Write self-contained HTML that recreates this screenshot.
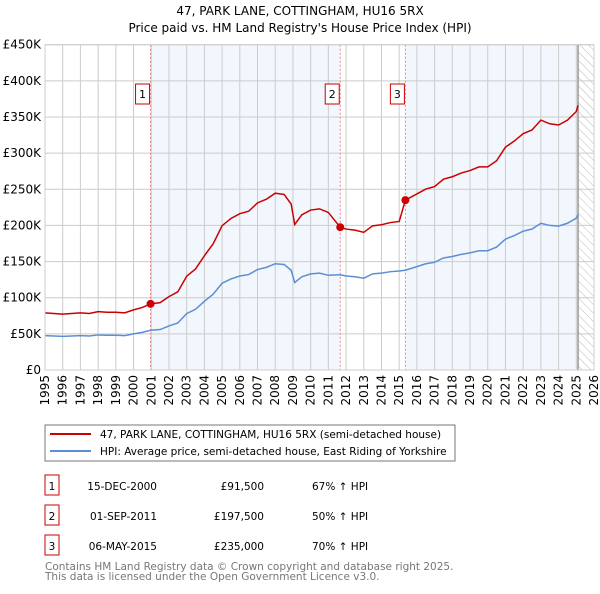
<!DOCTYPE html>
<html><head><meta charset="utf-8"><style>
body{margin:0;background:#fff;width:600px;height:590px;overflow:hidden;font-family:"DejaVu Sans","Liberation Sans",sans-serif}
svg text{font-family:"DejaVu Sans","Liberation Sans",sans-serif}
</style></head><body>
<svg id="c" width="600" height="590" viewBox="0 0 600 590">
<defs><pattern id="hatch" width="6" height="6" patternUnits="userSpaceOnUse" patternTransform="rotate(-45)"><rect width="6" height="6" fill="#fff"/><line x1="0" y1="0" x2="0" y2="6" stroke="#bbb" stroke-width="1"/></pattern></defs>
<text x="300" y="15" text-anchor="middle" font-size="12">47, PARK LANE, COTTINGHAM, HU16 5RX</text>
<text x="300" y="32" text-anchor="middle" font-size="12">Price paid vs. HM Land Registry's House Price Index (HPI)</text>
<g id="plot"></g>
<rect x="45" y="425" width="410" height="36" fill="#fff" stroke="#777"/>
<line x1="50" y1="434" x2="91" y2="434" stroke="#cc0000" stroke-width="2"/>
<text x="100" y="438" font-size="10.5">47, PARK LANE, COTTINGHAM, HU16 5RX (semi-detached house)</text>
<line x1="50" y1="451" x2="91" y2="451" stroke="#5b8fd4" stroke-width="2"/>
<text x="100" y="455" font-size="10.5">HPI: Average price, semi-detached house, East Riding of Yorkshire</text>
<g id="tbl"></g>
<text x="45" y="570" font-size="10.5" fill="#777">Contains HM Land Registry data © Crown copyright and database right 2025.</text>
<text x="45" y="580" font-size="10.5" fill="#777">This data is licensed under the Open Government Licence v3.0.</text>
</svg>
<script>
const hpiYears=[1995,1995.5,1996,1996.5,1997,1997.5,1998,1998.5,1999,1999.5,2000,2000.5,2000.96,2001.5,2002,2002.5,2003,2003.5,2004,2004.5,2005,2005.5,2006,2006.5,2007,2007.5,2008,2008.5,2008.9,2009.1,2009.5,2010,2010.5,2011,2011.67,2012,2012.5,2013,2013.5,2014,2014.5,2015,2015.35,2016,2016.5,2017,2017.5,2018,2018.5,2019,2019.5,2020,2020.5,2021,2021.5,2022,2022.5,2023,2023.5,2024,2024.5,2025,2025.1];
const hpiValues=[47.5,47,46.5,47,47.5,47,48.5,48,48,47.5,50,52,55,56,61,65,78,84,95,105,120,126,130,132,139,142,147,146,138,121,129,133,134,131,131.7,130,129,127,133,134,136,137,138,143,147,149,155,157,160,162,165,165,170,181,186,192,195,203,200,199,203,210,215];
const saleDates=[2000.96,2011.67,2015.35];
const salePrices=[91.5,197.5,235];
const saleLabels=["1","2","3"];
const saleDateText=["15-DEC-2000","01-SEP-2011","06-MAY-2015"];
const salePriceText=["£91,500","£197,500","£235,000"];
const saleHpiText=["67% ↑ HPI","50% ↑ HPI","70% ↑ HPI"];
const yTicks=[0,50,100,150,200,250,300,350,400,450];
const yTickLabels=["£0","£50K","£100K","£150K","£200K","£250K","£300K","£350K","£400K","£450K"];
const xTicks=[1995,1996,1997,1998,1999,2000,2001,2002,2003,2004,2005,2006,2007,2008,2009,2010,2011,2012,2013,2014,2015,2016,2017,2018,2019,2020,2021,2022,2023,2024,2025,2026];

const X0=45,X1=594,Y0=370,Y1=44.7;
const sx=t=>X0+(t-1995)*(X1-X0)/31;
const sy=v=>Y0-v*(Y0-Y1)/450;
const NS="http://www.w3.org/2000/svg";
const plot=document.getElementById('plot');
function mk(tag,attrs,parent){const e=document.createElementNS(NS,tag);for(const k in attrs)e.setAttribute(k,attrs[k]);(parent||plot).appendChild(e);return e;}
function hpiAt(t){for(let i=0;i<hpiYears.length-1;i++){if(t<=hpiYears[i+1]){const f=(t-hpiYears[i])/(hpiYears[i+1]-hpiYears[i]);return hpiValues[i]+f*(hpiValues[i+1]-hpiValues[i]);}}return hpiValues[hpiValues.length-1];}

let bg=mk('rect',{x:X0,y:Y1,width:X1-X0,height:Y0-Y1,fill:'#fff'});


const endT=hpiYears[hpiYears.length-1];
const shadeA=mk('rect',{x:sx(saleDates[0]),y:Y1,width:sx(saleDates[1])-sx(saleDates[0]),height:Y0-Y1,fill:'#f2f6fd'});


const shadeB=mk('rect',{x:sx(saleDates[2]),y:Y1,width:sx(endT)-sx(saleDates[2]),height:Y0-Y1,fill:'#f2f6fd'});


const hat=mk('rect',{x:sx(endT),y:Y1,width:X1-sx(endT),height:Y0-Y1,fill:'url(#hatch)'});



yTicks.forEach((v,i)=>{
  const l=mk('line',{x1:X0,x2:X1,y1:sy(v),y2:sy(v),stroke:'#ccc','stroke-width':1});
  
  
  const t=mk('text',{x:X0-4,y:sy(v)+4,'text-anchor':'end','font-size':12});
  
  
  t.textContent=yTickLabels[i];
});
xTicks.forEach(yr=>{
  const l=mk('line',{x1:sx(yr),x2:sx(yr),y1:Y1,y2:Y0,stroke:'#ccc','stroke-width':1});
  
  
  const t=mk('text',{x:0,y:0,'font-size':12,'text-anchor':'end',transform:`translate(${sx(yr)+4},${Y0+5}) rotate(-90)`});
  
  
  t.textContent=yr;
});
const ev=mk('line',{x1:sx(endT),x2:sx(endT),y1:Y1,y2:Y0,stroke:'#999','stroke-width':1.5});



saleDates.forEach((d,i)=>{
  const l=mk('line',{x1:sx(d),x2:sx(d),y1:Y1,y2:Y0,stroke:'#f08080','stroke-width':1,'stroke-dasharray':'2,2'});
  
  
  const r=mk('rect',{x:sx(d)-15,y:84,width:14,height:20,fill:'#fff',stroke:'#cc0000'});
  
  
  const t=mk('text',{x:sx(d)-8,y:98,'text-anchor':'middle','font-size':11});
  
  
  t.textContent=saleLabels[i];
});

const hp=mk('polyline',{points:hpiYears.map((t,i)=>sx(t)+','+sy(hpiValues[i])).join(' '),fill:'none',stroke:'#5b8fd4','stroke-width':1.5});



let pts=[];
for(let i=0;i<hpiYears.length;i++){
  const t=hpiYears[i];let k=0;
  for(let j=0;j<saleDates.length;j++) if(t>=saleDates[j]-1e-6) k=j;
  if(i>0){for(let j=1;j<saleDates.length;j++){if(hpiYears[i-1]<saleDates[j]&&t>saleDates[j]){const r=salePrices[j-1]/hpiAt(saleDates[j-1]);pts.push([saleDates[j],hpiAt(saleDates[j])*r]);pts.push([saleDates[j],salePrices[j]]);}}}
  const r=salePrices[k]/hpiAt(saleDates[k]);
  pts.push([t,hpiValues[i]*r]);
}
const pp=mk('polyline',{points:pts.map(p=>sx(p[0])+','+sy(p[1])).join(' '),fill:'none',stroke:'#cc0000','stroke-width':1.5});


saleDates.forEach((d,i)=>{
  const c=mk('circle',{cx:sx(d),cy:sy(salePrices[i]),r:4,fill:'#cc0000'});
  
  
});
const fr=mk('rect',{x:X0,y:Y1,width:X1-X0,height:Y0-Y1,fill:'none',stroke:'#ccc'});



const tbl=document.getElementById('tbl');
saleDates.forEach((d,i)=>{
  const y=487+i*30;
  const r=mk('rect',{x:45,y:y-12,width:14,height:20,fill:'#fff',stroke:'#cc0000'},tbl);
  
  
  const cells=[[52,'middle',saleLabels[i]],[157,'end',saleDateText[i]],[264,'end',salePriceText[i]],[312,'start',saleHpiText[i]]];
  const names=['table-sale-number','table-sale-date','table-sale-price','table-sale-hpi-diff'];
  cells.forEach((c,j)=>{
    const t=mk('text',{x:c[0],y:y+3,'text-anchor':c[1],'font-size':10.5},tbl);
    
    
    t.textContent=c[2];
  });
});
</script>
</body></html>
